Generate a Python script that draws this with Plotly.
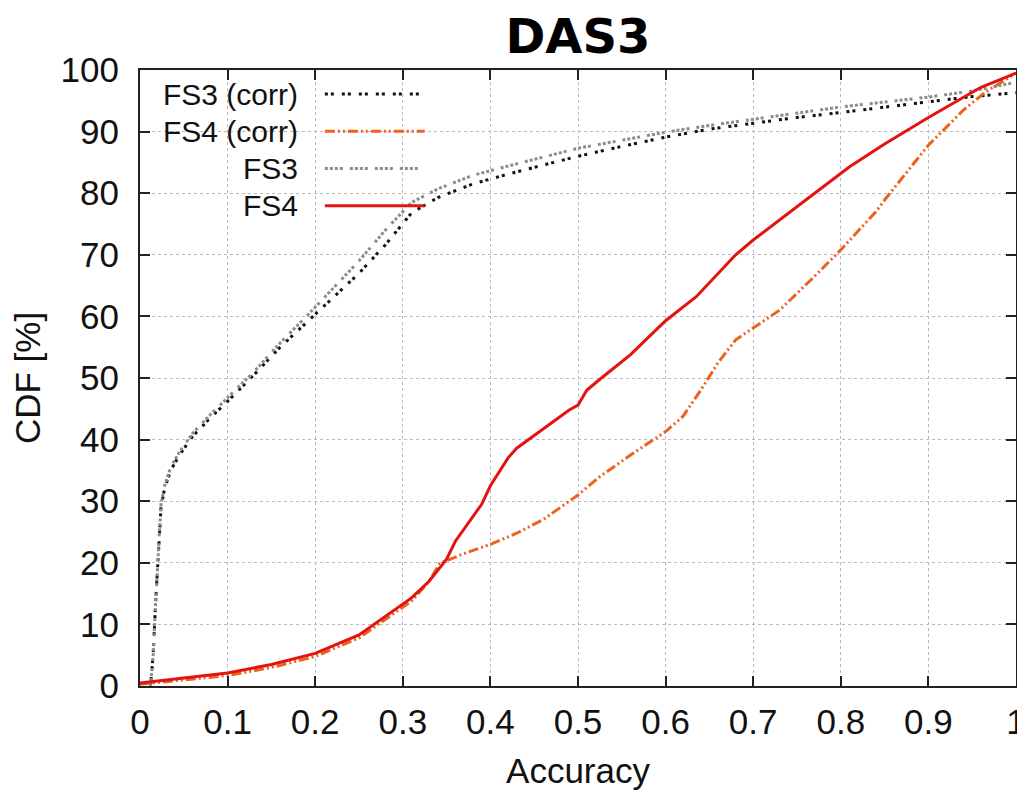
import plotly.graph_objects as go

# CDF of accuracy, DAS3 trace
acc_fs3_corr = [0.012, 0.015, 0.018, 0.021, 0.024, 0.028, 0.035, 0.045, 0.06, 0.08, 0.10, 0.13, 0.16, 0.19,
                0.22, 0.25, 0.28, 0.31, 0.34, 0.38, 0.42, 0.46, 0.50, 0.55, 0.60, 0.65, 0.70, 0.75, 0.80,
                0.85, 0.90, 0.95, 1.0]
cdf_fs3_corr = [0, 5, 14, 22, 29, 32, 35, 37.5, 40.5, 43.5, 46.2, 50.5, 55, 59, 63, 67, 71.6, 76.8, 79.3,
                81.5, 83.1, 84.5, 86, 87.6, 89.1, 90.4, 91.4, 92.3, 93.1, 94.0, 94.8, 95.7, 96.3]

acc_fs3 = [0.012, 0.015, 0.018, 0.021, 0.024, 0.028, 0.035, 0.045, 0.06, 0.08, 0.10, 0.13, 0.16, 0.19,
           0.22, 0.25, 0.28, 0.31, 0.34, 0.38, 0.42, 0.46, 0.50, 0.55, 0.60, 0.65, 0.70, 0.75, 0.80,
           0.85, 0.90, 0.95, 1.0]
cdf_fs3 = [0, 5, 14, 22, 29.5, 32.5, 35.5, 38, 41, 44, 46.8, 51, 55.7, 60, 64.5, 69, 74, 78.5, 80.7,
           82.9, 84.4, 85.8, 87.3, 88.6, 89.9, 91, 92, 93, 94, 94.8, 95.6, 96.6, 98]

acc_fs4 = [0, 0.05, 0.1, 0.15, 0.2, 0.25, 0.28, 0.31, 0.33, 0.35, 0.36, 0.39, 0.40, 0.42, 0.43, 0.45,
           0.49, 0.50, 0.51, 0.525, 0.56, 0.6, 0.635, 0.68, 0.7, 0.76, 0.81, 0.85, 0.9, 0.96, 1.0]
cdf_fs4 = [0.5, 1.3, 2.1, 3.5, 5.3, 8.3, 11.3, 14.3, 17, 20.6, 23.5, 29.5, 32.5, 37, 38.6, 40.7,
           44.8, 45.6, 48, 49.8, 53.8, 59.3, 63.2, 70, 72.4, 78.9, 84.3, 88, 92.3, 97.2, 99.5]

acc_fs4_corr = [0, 0.05, 0.1, 0.15, 0.2, 0.25, 0.28, 0.31, 0.33, 0.342, 0.37, 0.4, 0.43, 0.46, 0.5,
                0.525, 0.56, 0.6, 0.62, 0.64, 0.66, 0.68, 0.73, 0.77, 0.8, 0.84, 0.85, 0.9, 0.94,
                0.965, 1.0]
cdf_fs4_corr = [0.3, 1.0, 1.7, 3.0, 4.8, 7.8, 10.8, 13.8, 17, 19.9, 21.5, 23, 24.8, 27, 31,
                34, 37.5, 41.3, 43.8, 48, 52.5, 56.2, 61, 66.5, 70.8, 77, 78.9, 87.8, 93.5,
                96.4, 99.5]

x_ticks = [0, 0.1, 0.2, 0.3, 0.4, 0.5, 0.6, 0.7, 0.8, 0.9, 1]
x_tick_labels = ["0", "0.1", "0.2", "0.3", "0.4", "0.5", "0.6", "0.7", "0.8", "0.9", "1"]
y_ticks = [0, 10, 20, 30, 40, 50, 60, 70, 80, 90, 100]

# (name, x, y, colour, dash)
series = [
    ("FS3 (corr)", acc_fs3_corr, cdf_fs3_corr, "#111111", "3px,3px,3px,8px"),
    ("FS4 (corr)", acc_fs4_corr, cdf_fs4_corr, "#ec621e", "10px,3px,2px,3px,2px,3px"),
    ("FS3", acc_fs3, cdf_fs3, "#8c8c8c", "3px,2px,3px,2px,3px,2px,3px,7px"),
    ("FS4", acc_fs4, cdf_fs4, "#e3140f", "solid"),
]

FONT = "Liberation Sans, Arial, sans-serif"

fig = go.Figure()
for name, xs, ys, col, dash in series:
    fig.add_trace(go.Scatter(x=xs, y=ys, mode="lines", name=name, showlegend=False,
                             line=dict(color=col, width=3, dash=dash)))

# gnuplot style key: text right aligned, sample on the right
for i, (name, xs, ys, col, dash) in enumerate(series):
    yk = 0.961 - i * 0.0605
    fig.add_annotation(text=name, xref="paper", yref="paper", x=0.1826, y=yk,
                       xanchor="right", yanchor="middle", showarrow=False,
                       font=dict(family=FONT, size=30, color="#111"))
    fig.add_shape(type="line", xref="paper", yref="paper", x0=0.211, x1=0.325, y0=yk, y1=yk,
                  line=dict(color=col, width=3, dash=dash))

axis_common = dict(
    showline=True, linecolor="#222", linewidth=2, mirror="allticks",
    ticks="inside", ticklen=10, tickwidth=1.5, tickcolor="#222",
    showgrid=True, gridcolor="#bbbbbb", gridwidth=1, griddash="dot",
    zeroline=False, automargin=False, ticklabeloverflow="allow",
    tickfont=dict(family=FONT, size=35, color="#111"),
)

fig.update_xaxes(range=[0, 1], tickvals=x_ticks, ticktext=x_tick_labels,
                 title=dict(text="Accuracy", font=dict(family=FONT, size=35, color="#111"), standoff=18),
                 ticklabelstandoff=4, **axis_common)
fig.update_yaxes(range=[0, 100], tickvals=y_ticks,
                 title=dict(text="CDF [%]", font=dict(family=FONT, size=35, color="#111"), standoff=12),
                 ticklabelstandoff=12, **axis_common)

# page body adds an 8px margin, so the figure is 8px smaller and margins shifted
fig.update_layout(
    width=1017, height=790,
    margin=dict(l=132, r=9, t=62, b=112, autoexpand=False),
    paper_bgcolor="white", plot_bgcolor="white",
    title=dict(text="<b>DAS3</b>", x=0.5, xref="paper", xanchor="center",
               y=1 - 28 / 790, yref="container", yanchor="middle",
               font=dict(family="DejaVu Sans, sans-serif", size=48, color="#000")),
)

fig.write_html("out.html")
